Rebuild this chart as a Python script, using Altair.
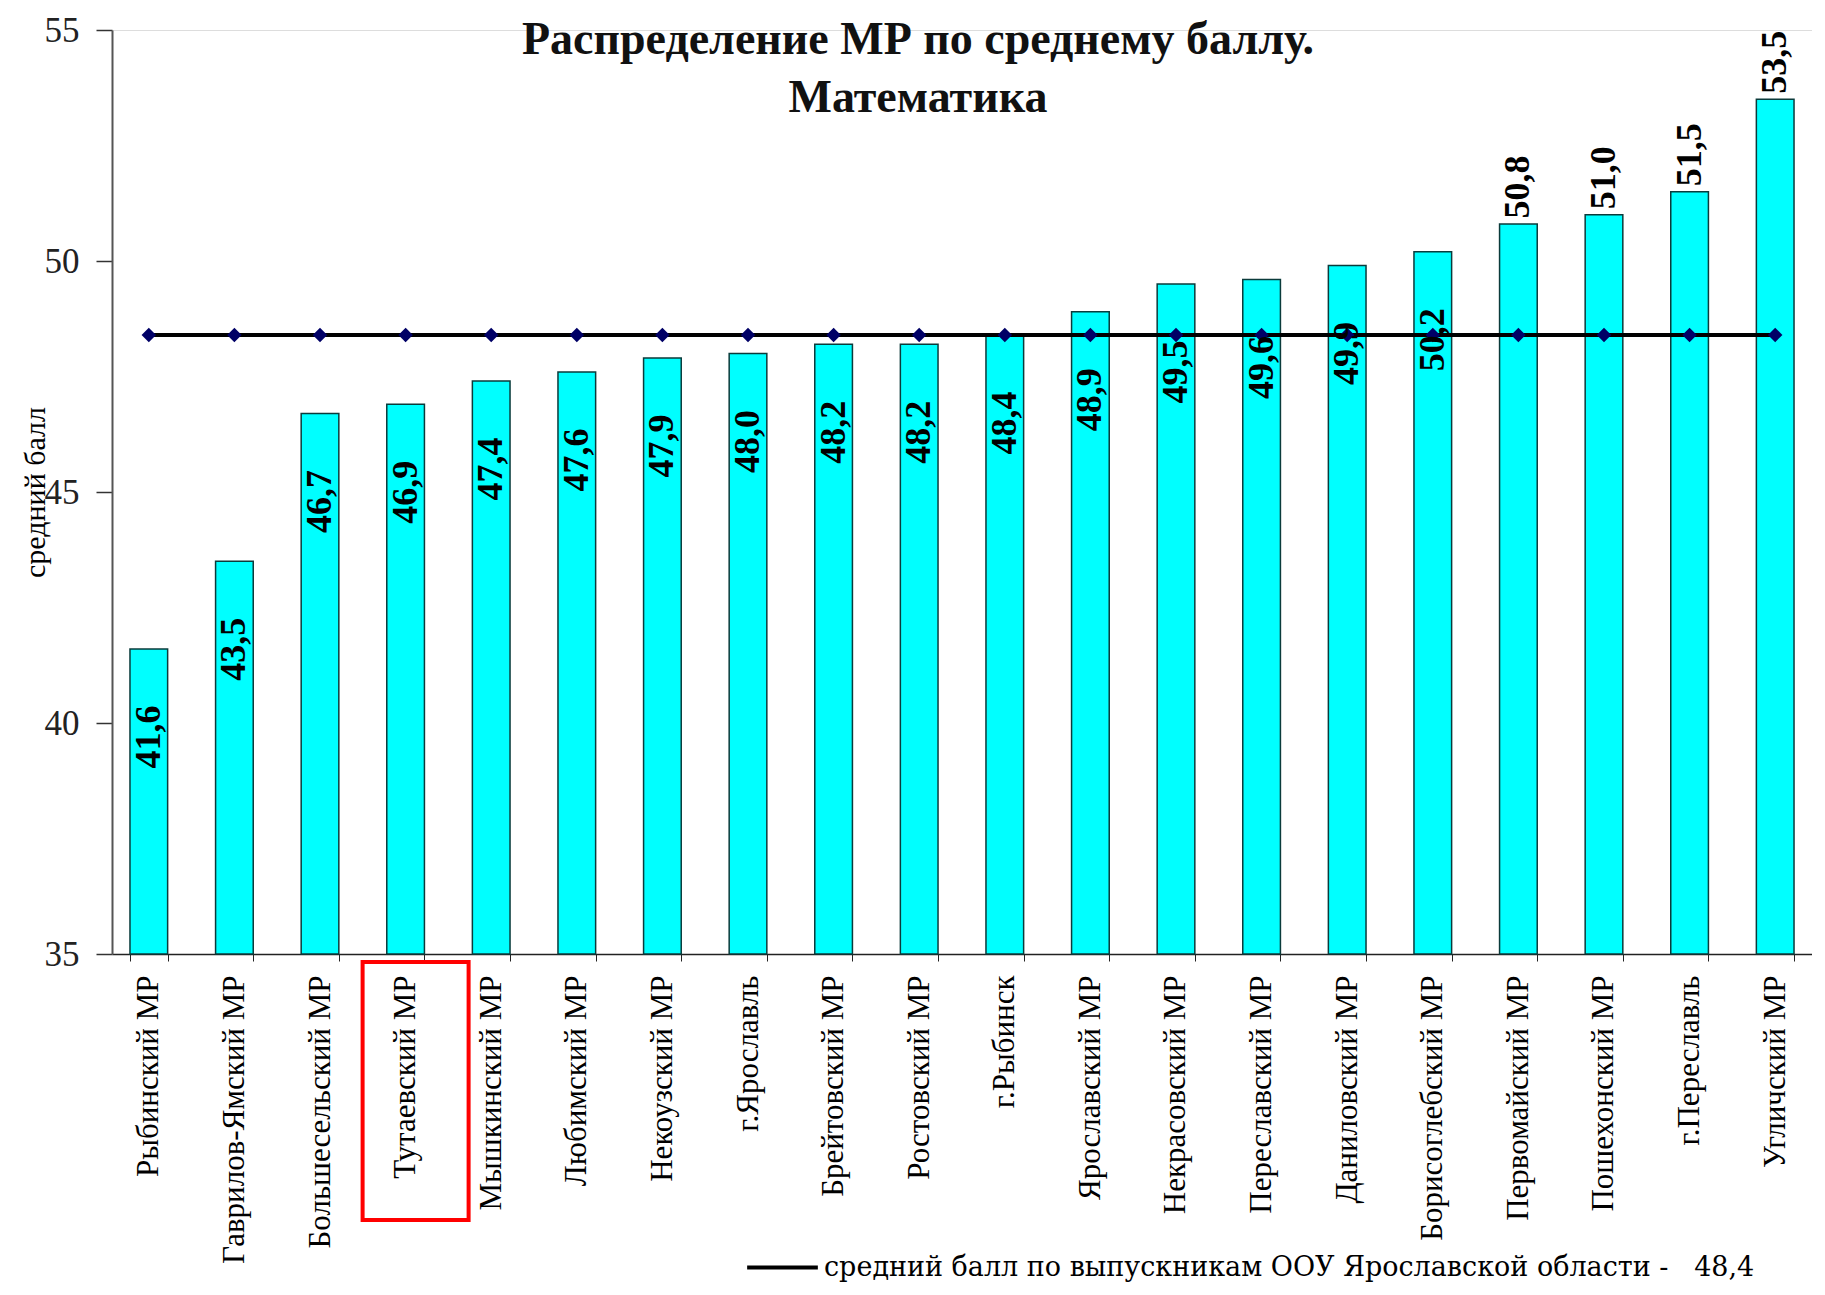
import altair as alt
import pandas as pd

categories = [
    "Рыбинский МР", "Гаврилов-Ямский МР", "Большесельский МР", "Тутаевский МР",
    "Мышкинский МР", "Любимский МР", "Некоузский МР", "г.Ярославль",
    "Брейтовский МР", "Ростовский МР", "г.Рыбинск", "Ярославский МР",
    "Некрасовский МР", "Переславский МР", "Даниловский МР", "Борисоглебский МР",
    "Первомайский МР", "Пошехонский МР", "г.Переславль", "Угличский МР",
]
values = [41.6, 43.5, 46.7, 46.9, 47.4, 47.6, 47.9, 48.0, 48.2, 48.2,
          48.4, 48.9, 49.5, 49.6, 49.9, 50.2, 50.8, 51.0, 51.5, 53.5]
region_avg = 48.4
avg_label = "средний балл по выпускникам ООУ Ярославской области -\u00a0\u00a0\u00a048,4"
highlighted = ["Тутаевский МР"]
y_ticks = [35, 40, 45, 50, 55]
title_lines = ["Распределение МР по среднему баллу.", "Математика"]

df = pd.DataFrame({"category": categories, "value": values})
df["avg"] = region_avg
df["series"] = avg_label

SERIF = "Liberation Serif"

x_enc = alt.X(
    "category:N",
    sort=categories,
    title=None,
    scale=alt.Scale(paddingInner=0.56, paddingOuter=0.21),
    axis=alt.Axis(
        labelAngle=270,
        labelFont=SERIF,
        labelFontSize=31,
        labelColor="black",
        labelPadding=14,
        labelLimit=0,
        tickBand="extent",
        tickSize=7,
        tickColor="#222",
        domainColor="#222",
        domainWidth=1.5,
    ),
)
y_scale = alt.Scale(domain=[35, 55], zero=False, nice=False)

base = alt.Chart(df)

bars = base.mark_bar(color="#00FFFF", stroke="#0b3b3b", strokeWidth=1.5).encode(
    x=x_enc,
    y=alt.Y(
        "value:Q",
        scale=y_scale,
        axis=alt.Axis(
            values=y_ticks,
            grid=False,
            tickSize=16,
            tickColor="#333",
            tickWidth=1.5,
            domainColor="#555",
            domainWidth=2,
            labelFont="Liberation Sans Narrow",
            labelFontSize=35,
            labelColor="#222",
            labelPadding=17,
            title="средний балл",
            titleFont=SERIF,
            titleFontSize=30,
            titleFontWeight="normal",
            titleColor="black",
            titleAngle=270,
            titleX=-77,
            titleY=462,
            titleAlign="center",
            titleBaseline="middle",
        ),
    ),
    y2=alt.datum(35),
)

line = base.mark_line(strokeWidth=4).encode(
    x=alt.X("category:N", sort=categories),
    y=alt.Y("avg:Q", scale=y_scale),
    color=alt.Color(
        "series:N",
        scale=alt.Scale(domain=[avg_label], range=["black"]),
        legend=alt.Legend(
            orient="none",
            legendX=633,
            legendY=1200,
            title=None,
            symbolType="stroke",
            symbolStrokeWidth=4,
            symbolSize=5000,
            labelFont="DejaVu Serif",
            labelFontSize=27,
            labelColor="black",
            labelLimit=0,
            labelOffset=4,
            padding=0,
        ),
    ),
)

points = base.mark_point(shape="diamond", filled=True, color="#000066", size=210, opacity=1).encode(
    x=alt.X("category:N", sort=categories),
    y=alt.Y("avg:Q", scale=y_scale),
)

labels_base = base.transform_calculate(
    label="replace(format(datum.value, '.1f'), '.', ',')"
)
text_inside = labels_base.transform_filter("datum.value < 50.5").mark_text(
    angle=270, dx=-88, font=SERIF, fontSize=36, fontWeight="bold",
    color="black", align="center", baseline="middle",
).encode(
    x=alt.X("category:N", sort=categories),
    y=alt.Y("value:Q", scale=y_scale),
    text="label:N",
)
text_outside = labels_base.transform_filter("datum.value >= 50.5").mark_text(
    angle=270, dx=37, font=SERIF, fontSize=36, fontWeight="bold",
    color="black", align="center", baseline="middle",
).encode(
    x=alt.X("category:N", sort=categories),
    y=alt.Y("value:Q", scale=y_scale),
    text="label:N",
)

highlight = base.transform_filter(
    alt.FieldOneOfPredicate(field="category", oneOf=highlighted)
).mark_bar(filled=False, stroke="#ff0000", strokeWidth=4, width=106, xOffset=10, clip=False).encode(
    x=alt.X("category:N", sort=categories),
    y=alt.value(932),
    y2=alt.value(1190),
)

chart = alt.layer(bars, line, points, text_inside, text_outside, highlight).properties(
    width=1700,
    height=924,
    autosize=alt.AutoSizeParams(type="none"),
    padding={"left": 104, "top": 22, "right": 0, "bottom": 332},
    title=alt.TitleParams(
        text=title_lines,
        font=SERIF,
        fontSize=46,
        fontWeight="bold",
        color="#111",
        anchor="middle",
        baseline="top",
        lineHeight=58,
        dx=-44,
        dy=109,
        offset=0,
    ),
).configure_view(stroke=None).configure(background="white")

chart.save("out.html", embed_options={"renderer": "svg", "actions": False})
